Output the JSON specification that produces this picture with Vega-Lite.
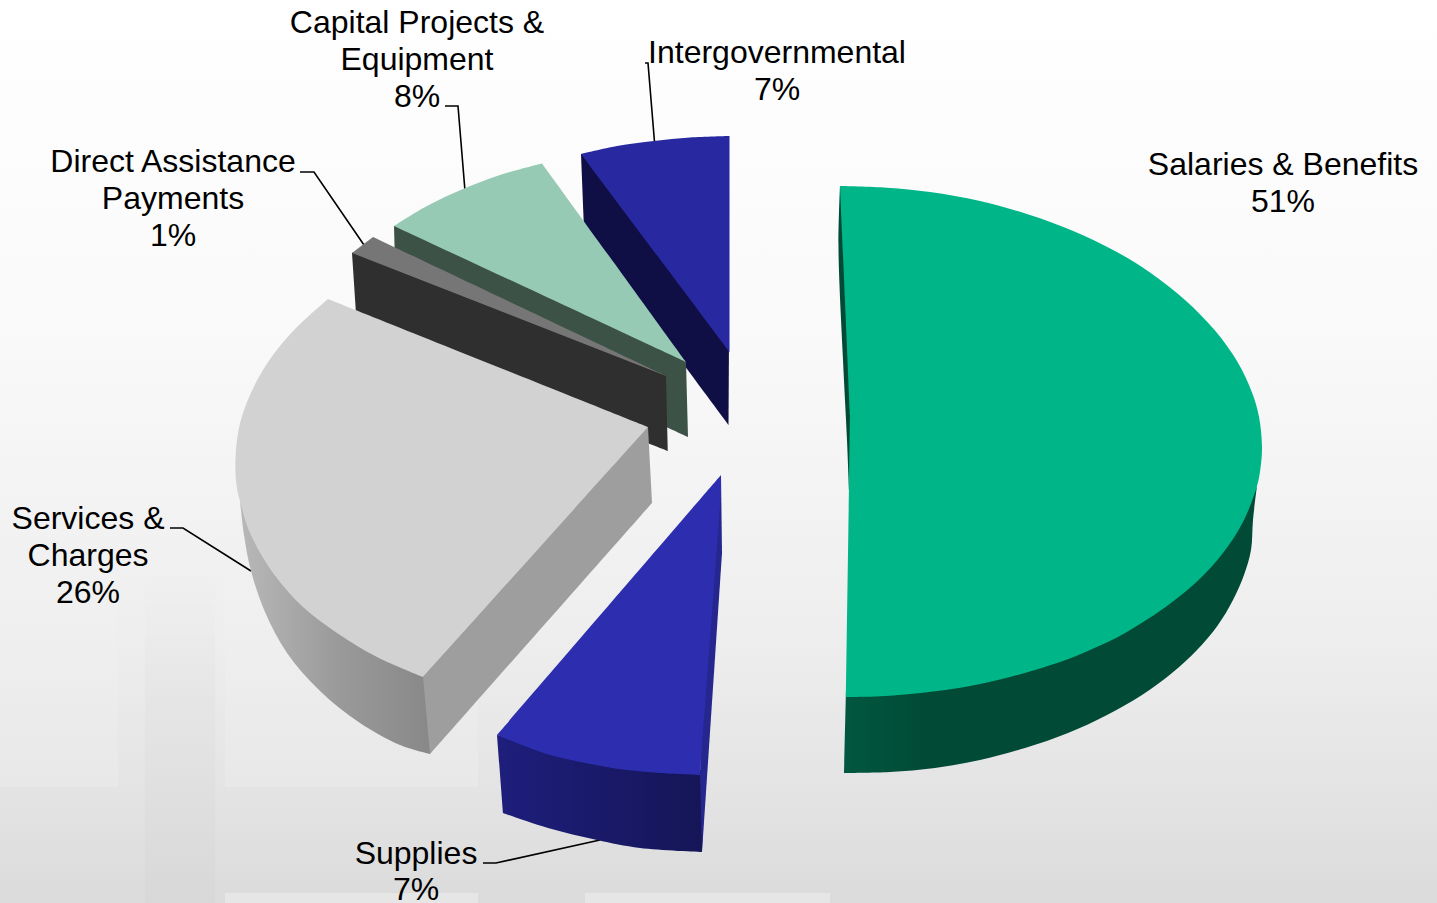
{
"$schema":"https://vega.github.io/schema/vega-lite/v6.json",
"width":1437,"height":903,"padding":0,
"autosize":{"type":"none"},
"config":{"view":{"stroke":null},"axis":{"grid":false}},
"datasets":{
"wall":[{"x":0,"x2":1437,"y":0,"y2":903}],
"panes":[{"x":0,"x2":118,"y":500,"y2":787},{"x":225,"x2":478,"y":500,"y2":787}],
"strips":[{"x":225,"x2":478,"y":893,"y2":903},{"x":585,"x2":830,"y":893,"y2":903}],
"column":[{"x":145,"x2":215,"y":560,"y2":903}],
"leaders":[
{"to":"Intergovernmental","seq":1,"x":645,"y":63},{"to":"Intergovernmental","seq":2,"x":648,"y":63},{"to":"Intergovernmental","seq":3,"x":654.5,"y":142},
{"to":"Capital","seq":1,"x":445,"y":106},{"to":"Capital","seq":2,"x":458,"y":106},{"to":"Capital","seq":3,"x":465,"y":191},
{"to":"Direct","seq":1,"x":300,"y":172},{"to":"Direct","seq":2,"x":314,"y":172},{"to":"Direct","seq":3,"x":364,"y":245},
{"to":"Services","seq":1,"x":170,"y":528},{"to":"Services","seq":2,"x":183,"y":528},{"to":"Services","seq":3,"x":251,"y":571},
{"to":"Supplies","seq":1,"x":483,"y":863},{"to":"Supplies","seq":2,"x":496,"y":863},{"to":"Supplies","seq":3,"x":600,"y":840}],
"rim":[
{"part":"services","seq":1,"x":240,"y":500},{"part":"services","seq":2,"x":240,"y":500},{"part":"services","seq":3,"x":244,"y":535},{"part":"services","seq":4,"x":251,"y":571},{"part":"services","seq":5,"x":265,"y":612},{"part":"services","seq":6,"x":287,"y":653},{"part":"services","seq":7,"x":320,"y":691},{"part":"services","seq":8,"x":360,"y":723},{"part":"services","seq":9,"x":400,"y":745},{"part":"services","seq":10,"x":430,"y":754},{"part":"services","seq":11,"x":430,"y":754},{"part":"services","seq":12,"x":436,"y":745},{"part":"services","seq":13,"x":436,"y":745},{"part":"services","seq":14,"x":428,"y":670},{"part":"services","seq":15,"x":428,"y":670},{"part":"services","seq":16,"x":377,"y":650},{"part":"services","seq":17,"x":337,"y":626},{"part":"services","seq":18,"x":303,"y":600},{"part":"services","seq":19,"x":273,"y":566},{"part":"services","seq":20,"x":250,"y":526},{"part":"services","seq":21,"x":240,"y":500},{"part":"services","seq":22,"x":240,"y":500},
{"part":"supplies","seq":1,"x":497,"y":735},{"part":"supplies","seq":2,"x":497,"y":735},{"part":"supplies","seq":3,"x":503,"y":813},{"part":"supplies","seq":4,"x":503,"y":813},{"part":"supplies","seq":5,"x":548,"y":828},{"part":"supplies","seq":6,"x":597,"y":840},{"part":"supplies","seq":7,"x":640,"y":848},{"part":"supplies","seq":8,"x":702,"y":852},{"part":"supplies","seq":9,"x":702,"y":852},{"part":"supplies","seq":10,"x":704,"y":800},{"part":"supplies","seq":11,"x":704,"y":800},{"part":"supplies","seq":12,"x":703,"y":770},{"part":"supplies","seq":13,"x":703,"y":770},{"part":"supplies","seq":14,"x":660,"y":768},{"part":"supplies","seq":15,"x":623,"y":764},{"part":"supplies","seq":16,"x":585,"y":758},{"part":"supplies","seq":17,"x":547,"y":749},{"part":"supplies","seq":18,"x":497,"y":735},{"part":"supplies","seq":19,"x":497,"y":735},
{"part":"salaries","seq":1,"x":1257,"y":486},{"part":"salaries","seq":2,"x":1257,"y":486},{"part":"salaries","seq":3,"x":1253,"y":520},{"part":"salaries","seq":4,"x":1251,"y":550},{"part":"salaries","seq":5,"x":1244,"y":575},{"part":"salaries","seq":6,"x":1233,"y":600},{"part":"salaries","seq":7,"x":1218,"y":625},{"part":"salaries","seq":8,"x":1197,"y":650},{"part":"salaries","seq":9,"x":1172,"y":673},{"part":"salaries","seq":10,"x":1142,"y":695},{"part":"salaries","seq":11,"x":1107,"y":715},{"part":"salaries","seq":12,"x":1068,"y":733},{"part":"salaries","seq":13,"x":1025,"y":748},{"part":"salaries","seq":14,"x":980,"y":760},{"part":"salaries","seq":15,"x":935,"y":768},{"part":"salaries","seq":16,"x":890,"y":772},{"part":"salaries","seq":17,"x":844,"y":773},{"part":"salaries","seq":18,"x":844,"y":773},{"part":"salaries","seq":19,"x":846,"y":690},{"part":"salaries","seq":20,"x":846,"y":690},{"part":"salaries","seq":21,"x":875,"y":690},{"part":"salaries","seq":22,"x":937,"y":685},{"part":"salaries","seq":23,"x":1000,"y":673},{"part":"salaries","seq":24,"x":1067,"y":653},{"part":"salaries","seq":25,"x":1117,"y":631},{"part":"salaries","seq":26,"x":1167,"y":600},{"part":"salaries","seq":27,"x":1197,"y":575},{"part":"salaries","seq":28,"x":1223,"y":547},{"part":"salaries","seq":29,"x":1243,"y":516},{"part":"salaries","seq":30,"x":1257,"y":486},{"part":"salaries","seq":31,"x":1257,"y":486}],
"faces":[
{"part":"intergovernmental side","seq":1,"x":581,"y":154},{"part":"intergovernmental side","seq":2,"x":581,"y":154},{"part":"intergovernmental side","seq":3,"x":600,"y":152},{"part":"intergovernmental side","seq":4,"x":600,"y":152},{"part":"intergovernmental side","seq":5,"x":729,"y":340},{"part":"intergovernmental side","seq":6,"x":729,"y":340},{"part":"intergovernmental side","seq":7,"x":728.5,"y":425},{"part":"intergovernmental side","seq":8,"x":728.5,"y":425},{"part":"intergovernmental side","seq":9,"x":584,"y":230},{"part":"intergovernmental side","seq":10,"x":584,"y":230},
{"part":"intergovernmental top","seq":1,"x":581,"y":154},{"part":"intergovernmental top","seq":2,"x":581,"y":154},{"part":"intergovernmental top","seq":3,"x":617,"y":146},{"part":"intergovernmental top","seq":4,"x":654,"y":141},{"part":"intergovernmental top","seq":5,"x":690,"y":137.5},{"part":"intergovernmental top","seq":6,"x":729.5,"y":136},{"part":"intergovernmental top","seq":7,"x":729.5,"y":136},{"part":"intergovernmental top","seq":8,"x":729.5,"y":352},{"part":"intergovernmental top","seq":9,"x":729.5,"y":352},{"part":"intergovernmental top","seq":10,"x":581,"y":154},{"part":"intergovernmental top","seq":11,"x":581,"y":154},
{"part":"capital side","seq":1,"x":394,"y":226},{"part":"capital side","seq":2,"x":394,"y":226},{"part":"capital side","seq":3,"x":420,"y":228},{"part":"capital side","seq":4,"x":420,"y":228},{"part":"capital side","seq":5,"x":670,"y":346},{"part":"capital side","seq":6,"x":670,"y":346},{"part":"capital side","seq":7,"x":686,"y":362},{"part":"capital side","seq":8,"x":686,"y":362},{"part":"capital side","seq":9,"x":688,"y":437},{"part":"capital side","seq":10,"x":688,"y":437},{"part":"capital side","seq":11,"x":396,"y":301},{"part":"capital side","seq":12,"x":396,"y":301},
{"part":"capital top","seq":1,"x":394,"y":226},{"part":"capital top","seq":2,"x":394,"y":226},{"part":"capital top","seq":3,"x":427,"y":206},{"part":"capital top","seq":4,"x":463,"y":189},{"part":"capital top","seq":5,"x":500,"y":175},{"part":"capital top","seq":6,"x":542,"y":163.5},{"part":"capital top","seq":7,"x":542,"y":163.5},{"part":"capital top","seq":8,"x":686,"y":362},{"part":"capital top","seq":9,"x":686,"y":362},{"part":"capital top","seq":10,"x":394,"y":226},{"part":"capital top","seq":11,"x":394,"y":226},
{"part":"direct side","seq":1,"x":352,"y":253},{"part":"direct side","seq":2,"x":352,"y":253},{"part":"direct side","seq":3,"x":372,"y":250},{"part":"direct side","seq":4,"x":372,"y":250},{"part":"direct side","seq":5,"x":640,"y":365},{"part":"direct side","seq":6,"x":640,"y":365},{"part":"direct side","seq":7,"x":666,"y":376},{"part":"direct side","seq":8,"x":666,"y":376},{"part":"direct side","seq":9,"x":668,"y":451},{"part":"direct side","seq":10,"x":668,"y":451},{"part":"direct side","seq":11,"x":357,"y":329},{"part":"direct side","seq":12,"x":357,"y":329},
{"part":"direct top","seq":1,"x":352,"y":253},{"part":"direct top","seq":2,"x":352,"y":253},{"part":"direct top","seq":3,"x":373,"y":237},{"part":"direct top","seq":4,"x":373,"y":237},{"part":"direct top","seq":5,"x":665,"y":375.5},{"part":"direct top","seq":6,"x":665,"y":375.5},
{"part":"services cut","seq":1,"x":423,"y":677},{"part":"services cut","seq":2,"x":423,"y":677},{"part":"services cut","seq":3,"x":426,"y":668},{"part":"services cut","seq":4,"x":426,"y":668},{"part":"services cut","seq":5,"x":640,"y":430},{"part":"services cut","seq":6,"x":640,"y":430},{"part":"services cut","seq":7,"x":648,"y":427},{"part":"services cut","seq":8,"x":648,"y":427},{"part":"services cut","seq":9,"x":652,"y":503},{"part":"services cut","seq":10,"x":652,"y":503},{"part":"services cut","seq":11,"x":430,"y":754},{"part":"services cut","seq":12,"x":430,"y":754},
{"part":"services top","seq":1,"x":328,"y":299},{"part":"services top","seq":2,"x":328,"y":299},{"part":"services top","seq":3,"x":297,"y":327},{"part":"services top","seq":4,"x":276,"y":351},{"part":"services top","seq":5,"x":259.5,"y":376},{"part":"services top","seq":6,"x":247,"y":402},{"part":"services top","seq":7,"x":239,"y":428},{"part":"services top","seq":8,"x":235.5,"y":458},{"part":"services top","seq":9,"x":236.5,"y":485},{"part":"services top","seq":10,"x":241,"y":505},{"part":"services top","seq":11,"x":250,"y":533},{"part":"services top","seq":12,"x":273,"y":573},{"part":"services top","seq":13,"x":303,"y":607},{"part":"services top","seq":14,"x":337,"y":633},{"part":"services top","seq":15,"x":377,"y":657},{"part":"services top","seq":16,"x":423,"y":677},{"part":"services top","seq":17,"x":423,"y":677},{"part":"services top","seq":18,"x":648,"y":427},{"part":"services top","seq":19,"x":648,"y":427},{"part":"services top","seq":20,"x":328,"y":299},{"part":"services top","seq":21,"x":328,"y":299},
{"part":"supplies cut","seq":1,"x":721,"y":475},{"part":"supplies cut","seq":2,"x":721,"y":475},{"part":"supplies cut","seq":3,"x":722,"y":553},{"part":"supplies cut","seq":4,"x":722,"y":553},{"part":"supplies cut","seq":5,"x":702,"y":852},{"part":"supplies cut","seq":6,"x":702,"y":852},{"part":"supplies cut","seq":7,"x":700,"y":775},{"part":"supplies cut","seq":8,"x":700,"y":775},{"part":"supplies cut","seq":9,"x":703,"y":700},{"part":"supplies cut","seq":10,"x":703,"y":700},{"part":"supplies cut","seq":11,"x":718,"y":500},{"part":"supplies cut","seq":12,"x":718,"y":500},
{"part":"supplies top","seq":1,"x":721,"y":475},{"part":"supplies top","seq":2,"x":721,"y":475},{"part":"supplies top","seq":3,"x":497,"y":735},{"part":"supplies top","seq":4,"x":497,"y":735},{"part":"supplies top","seq":5,"x":547,"y":754},{"part":"supplies top","seq":6,"x":585,"y":763},{"part":"supplies top","seq":7,"x":623,"y":769.5},{"part":"supplies top","seq":8,"x":660,"y":773},{"part":"supplies top","seq":9,"x":700,"y":775},{"part":"supplies top","seq":10,"x":700,"y":775},{"part":"supplies top","seq":11,"x":721,"y":493},{"part":"supplies top","seq":12,"x":721,"y":493},
{"part":"salaries cut","seq":1,"x":840,"y":186},{"part":"salaries cut","seq":2,"x":840,"y":186},{"part":"salaries cut","seq":3,"x":838.5,"y":249},{"part":"salaries cut","seq":4,"x":843,"y":360},{"part":"salaries cut","seq":5,"x":847,"y":440},{"part":"salaries cut","seq":6,"x":849,"y":490},{"part":"salaries cut","seq":7,"x":849,"y":490},{"part":"salaries cut","seq":8,"x":854,"y":486},{"part":"salaries cut","seq":9,"x":854,"y":486},{"part":"salaries cut","seq":10,"x":854,"y":415},{"part":"salaries cut","seq":11,"x":854,"y":415},{"part":"salaries cut","seq":12,"x":845,"y":195},{"part":"salaries cut","seq":13,"x":845,"y":195},
{"part":"salaries top","seq":1,"x":840,"y":186},{"part":"salaries top","seq":2,"x":840,"y":186},{"part":"salaries top","seq":3,"x":887,"y":187.7},{"part":"salaries top","seq":4,"x":930,"y":192},{"part":"salaries top","seq":5,"x":980,"y":201},{"part":"salaries top","seq":6,"x":1030,"y":215},{"part":"salaries top","seq":7,"x":1075,"y":231.7},{"part":"salaries top","seq":8,"x":1115,"y":251},{"part":"salaries top","seq":9,"x":1150,"y":272.4},{"part":"salaries top","seq":10,"x":1185,"y":300},{"part":"salaries top","seq":11,"x":1215,"y":330.6},{"part":"salaries top","seq":12,"x":1238,"y":362.8},{"part":"salaries top","seq":13,"x":1252,"y":392.5},{"part":"salaries top","seq":14,"x":1259,"y":416.7},{"part":"salaries top","seq":15,"x":1262,"y":447},{"part":"salaries top","seq":16,"x":1260.5,"y":468},{"part":"salaries top","seq":17,"x":1257,"y":486},{"part":"salaries top","seq":18,"x":1243,"y":522},{"part":"salaries top","seq":19,"x":1223,"y":553},{"part":"salaries top","seq":20,"x":1197,"y":581.5},{"part":"salaries top","seq":21,"x":1167,"y":606},{"part":"salaries top","seq":22,"x":1140,"y":624},{"part":"salaries top","seq":23,"x":1117,"y":637.5},{"part":"salaries top","seq":24,"x":1090,"y":650},{"part":"salaries top","seq":25,"x":1067,"y":659.5},{"part":"salaries top","seq":26,"x":1035,"y":670},{"part":"salaries top","seq":27,"x":1000,"y":679.5},{"part":"salaries top","seq":28,"x":970,"y":686},{"part":"salaries top","seq":29,"x":937,"y":691},{"part":"salaries top","seq":30,"x":905,"y":694.6},{"part":"salaries top","seq":31,"x":875,"y":696.5},{"part":"salaries top","seq":32,"x":846,"y":697},{"part":"salaries top","seq":33,"x":846,"y":697},{"part":"salaries top","seq":34,"x":849,"y":486},{"part":"salaries top","seq":35,"x":849,"y":486},{"part":"salaries top","seq":36,"x":850,"y":415},{"part":"salaries top","seq":37,"x":850,"y":415},{"part":"salaries top","seq":38,"x":840,"y":186},{"part":"salaries top","seq":39,"x":840,"y":186}],
"labels":[
{"text":"Capital Projects &","x":417,"y":23},{"text":"Equipment","x":417,"y":60},{"text":"8%","x":417,"y":97},
{"text":"Intergovernmental","x":777,"y":53},{"text":"7%","x":777,"y":90},
{"text":"Salaries & Benefits","x":1283,"y":165},{"text":"51%","x":1283,"y":202},
{"text":"Direct Assistance","x":173,"y":162},{"text":"Payments","x":173,"y":199},{"text":"1%","x":173,"y":236},
{"text":"Services &","x":88,"y":519},{"text":"Charges","x":88,"y":556},{"text":"26%","x":88,"y":593},
{"text":"Supplies","x":416,"y":854},{"text":"7%","x":416,"y":890}]
},
"encoding":{
"x":{"field":"x","type":"quantitative","scale":{"domain":[0,1437],"nice":false,"zero":false},"axis":null},
"y":{"field":"y","type":"quantitative","scale":{"domain":[903,0],"nice":false,"zero":false},"axis":null}
},
"layer":[
{"data":{"name":"wall"},
 "mark":{"type":"rect","color":{"gradient":"linear","x1":0,"y1":0,"x2":0,"y2":1,"stops":[{"offset":0,"color":"#ffffff"},{"offset":0.38,"color":"#f9f9f9"},{"offset":0.7,"color":"#eeeeee"},{"offset":0.87,"color":"#e4e4e4"},{"offset":1,"color":"#dbdbdb"}]}},
 "encoding":{"x2":{"field":"x2"},"y2":{"field":"y2"}}},
{"data":{"name":"panes"},
 "mark":{"type":"rect","color":{"gradient":"linear","x1":0,"y1":0,"x2":0,"y2":1,"stops":[{"offset":0,"color":"rgba(255,255,255,0)"},{"offset":1,"color":"rgba(255,255,255,0.16)"}]}},
 "encoding":{"x2":{"field":"x2"},"y2":{"field":"y2"}}},
{"data":{"name":"strips"},
 "mark":{"type":"rect","color":"#ffffff","opacity":0.3},
 "encoding":{"x2":{"field":"x2"},"y2":{"field":"y2"}}},
{"data":{"name":"column"},
 "mark":{"type":"rect","color":{"gradient":"linear","x1":0,"y1":0,"x2":0,"y2":1,"stops":[{"offset":0,"color":"rgba(0,0,0,0)"},{"offset":0.4,"color":"rgba(0,0,0,0.02)"},{"offset":1,"color":"rgba(0,0,0,0.015)"}]}},
 "encoding":{"x2":{"field":"x2"},"y2":{"field":"y2"}}},
{"data":{"name":"leaders"},
 "mark":{"type":"line","color":"#000000","strokeWidth":1.6},
 "encoding":{"detail":{"field":"to"},"order":{"field":"seq"}}},
{"data":{"name":"rim"},"transform":[{"filter":"datum.part==='services'"}],
 "mark":{"type":"line","stroke":null,"interpolate":"catmull-rom","fill":{"gradient":"linear","x1":0,"y1":0,"x2":1,"y2":0,"stops":[{"offset":0,"color":"#b8b8b8"},{"offset":0.5,"color":"#9a9a9a"},{"offset":1,"color":"#878787"}]}},
 "encoding":{"order":{"field":"seq"}}},
{"data":{"name":"rim"},"transform":[{"filter":"datum.part==='supplies'"}],
 "mark":{"type":"line","stroke":null,"interpolate":"catmull-rom","fill":{"gradient":"linear","x1":0,"y1":0,"x2":1,"y2":0,"stops":[{"offset":0,"color":"#1e1e7c"},{"offset":1,"color":"#151557"}]}},
 "encoding":{"order":{"field":"seq"}}},
{"data":{"name":"rim"},"transform":[{"filter":"datum.part==='salaries'"}],
 "mark":{"type":"line","stroke":null,"interpolate":"catmull-rom","fill":{"gradient":"linear","x1":0,"y1":0,"x2":1,"y2":0,"stops":[{"offset":0,"color":"#01573f"},{"offset":0.2,"color":"#014a36"},{"offset":1,"color":"#014a36"}]}},
 "encoding":{"order":{"field":"seq"}}},
{"data":{"name":"faces"},
 "mark":{"type":"line","stroke":null,"interpolate":"catmull-rom"},
 "encoding":{"order":{"field":"seq"},
  "fill":{"field":"part","type":"nominal","legend":null,"sort":null,"scale":{
   "domain":["intergovernmental side","intergovernmental top","capital side","capital top","direct side","direct top","services cut","services top","supplies cut","supplies top","salaries cut","salaries top"],
   "range":["#0f0f45","#2828a0","#3c5247","#96cab4","#2f2f2f","#767676","#9e9e9e","#d2d2d2","#26268f","#2d2db0","#014a36","#00b688"]}}}},
{"data":{"name":"labels"},
 "mark":{"type":"text","font":"Liberation Sans","fontSize":32,"color":"#000000","align":"center","baseline":"middle"},
 "encoding":{"text":{"field":"text"}}}
]
}
